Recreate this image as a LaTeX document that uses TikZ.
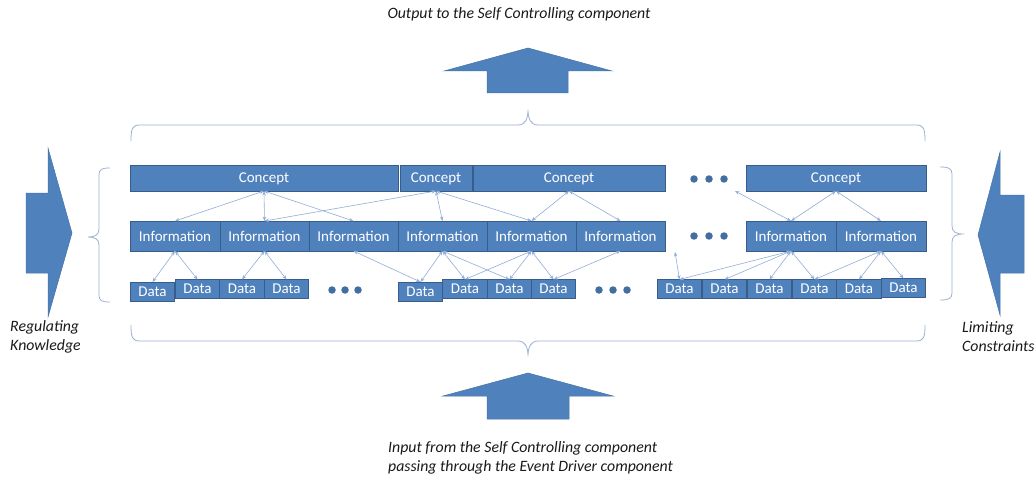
\documentclass[tikz,border=0pt]{standalone}
\usepackage{fontspec}
\setmainfont{Carlito}
\usetikzlibrary{arrows.meta,calc}
\definecolor{boxfill}{HTML}{4F81BD}
\definecolor{boxline}{HTML}{385D8A}
\definecolor{linkc}{HTML}{92AED8}
\definecolor{bracec}{HTML}{9FB1D0}
\definecolor{labelc}{HTML}{1A1A1A}
\begin{document}
\begin{tikzpicture}[x=1pt,y=-1pt,
  box/.style={draw=boxline,line width=1pt,fill=boxfill,text=white,inner sep=0pt,outer sep=0pt,font=\fontsize{15}{17}\selectfont},
  cbox/.style={box,minimum height=25pt},
  ibox/.style={box,minimum height=30pt},
  dbox/.style={box,minimum height=19pt,minimum width=44.5pt},
  link/.style={draw=linkc,line width=0.6pt,{Stealth[length=4.5pt,width=3.5pt]}-{Stealth[length=4.5pt,width=3.5pt]}},
  brc/.style={draw=bracec,line width=0.8pt},
  bigarrow/.style={fill=boxfill,draw=boxfill!90!black,line width=0.5pt},
  dotc/.style={circle,fill=boxfill!85!black,inner sep=0pt,minimum size=7.5pt},
  lbl/.style={text=labelc,font=\fontsize{15.8}{19}\selectfont\itshape,inner sep=0pt,align=left}
]
\useasboundingbox[fill=white] (0,0) rectangle (1035,481);

% Concept row
\node[cbox,minimum width=268pt] (C1) at (264,178.5) {Concept};
\node[cbox,minimum width=72pt] (C2) at (436,178.5) {Concept};
\node[cbox,minimum width=192pt] (C3) at (569,178.5) {Concept};
\node[cbox,minimum width=180pt] (C4) at (836,178.5) {Concept};

% Information row
\node[ibox,minimum width=90pt] (I1) at (175,236) {Information};
\node[ibox,minimum width=89pt] (I2) at (264.5,236) {Information};
\node[ibox,minimum width=89pt] (I3) at (353.5,236) {Information};
\node[ibox,minimum width=89pt] (I4) at (442.5,236) {Information};
\node[ibox,minimum width=89pt] (I5) at (531.5,236) {Information};
\node[ibox,minimum width=89pt] (I6) at (620.5,236) {Information};
\node[ibox,minimum width=90pt] (I7) at (791,236) {Information};
\node[ibox,minimum width=90pt] (I8) at (881,236) {Information};

% Data row
\node[dbox] (D2) at (197.5,289) {Data};
\node[dbox] (D3) at (242,289) {Data};
\node[dbox] (D4) at (286.5,289) {Data};
\node[dbox] (D1) at (152.5,291.5) {Data};
\node[dbox] (D6) at (465,289) {Data};
\node[dbox] (D7) at (509.5,289) {Data};
\node[dbox] (D8) at (553.5,289) {Data};
\node[dbox] (D5) at (420.5,291.5) {Data};
\node[dbox] (D9) at (679.5,289) {Data};
\node[dbox] (D10) at (724.5,289) {Data};
\node[dbox] (D11) at (769.5,289) {Data};
\node[dbox] (D12) at (814.5,289) {Data};
\node[dbox] (D13) at (859,289) {Data};
\node[dbox] (D14) at (903.5,288) {Data};

% ellipsis dots
\foreach \x/\n in {694/a,709/b,724/c}{
  \node[dotc] (cd\n) at (\x,179) {};
  \node[dotc] (id\n) at (\x,236) {};
}
\foreach \x/\n in {332/a,345/b,358/c}{ \node[dotc] (da\n) at (\x,290) {}; }
\foreach \x/\n in {599/a,613/b,627/c}{ \node[dotc] (db\n) at (\x,290) {}; }

% free ends
\coordinate (fc) at (735,191);
\coordinate (fd) at (675,252);

% Concept - Information links
\draw[link] (C1.south) -- (I1.north);
\draw[link] (C1.south) -- (I2.north);
\draw[link] (C1.south) -- (I3.north);
\draw[link] (C2.south) -- (I2.north);
\draw[link] (C2.south) -- (I4.north);
\draw[link] (C2.south) -- (I5.north);
\draw[link] (C3.south) -- (I5.north);
\draw[link] (C3.south) -- (I6.north);
\draw[link] (C4.south) -- (I7.north);
\draw[link] (C4.south) -- (I8.north);
\draw[link] (I7.north) -- (fc);

% Information - Data links
\draw[link] (I1.south) -- (D1.north);
\draw[link] (I1.south) -- (D2.north);
\draw[link] (I2.south) -- (D3.north);
\draw[link] (I2.south) -- (D4.north);
\draw[link] (I3.south) -- (D5.north);
\draw[link] (I4.south) -- (D5.north);
\draw[link] (I4.south) -- (D6.north);
\draw[link] (I4.south) -- (D7.north);
\draw[link] (I5.south) -- (D6.north);
\draw[link] (I5.south) -- (D7.north);
\draw[link] (I5.south) -- (D8.north);
\draw[link] (I6.south) -- (D8.north);
\draw[link] (I7.south) -- (D9.north);
\draw[link] (I7.south) -- (D10.north);
\draw[link] (I7.south) -- (D11.north);
\draw[link] (I7.south) -- (D12.north);
\draw[link] (I8.south) -- (D12.north);
\draw[link] (I8.south) -- (D13.north);
\draw[link] (I8.south) -- (D14.north);
\draw[link] (D9.north) -- (fd);

% Braces
\draw[brc] (131,141) .. controls (131,129) and (132,125) .. (140,125) -- (518,125)
  .. controls (525,125) and (528,119) .. (528,110)
  .. controls (528,119) and (531,125) .. (538,125) -- (916,125)
  .. controls (924,125) and (925,129) .. (925,141);
\draw[brc] (131,325) .. controls (131,337) and (132,341) .. (140,341) -- (518,341)
  .. controls (525,341) and (528,347) .. (528,356)
  .. controls (528,347) and (531,341) .. (538,341) -- (916,341)
  .. controls (924,341) and (925,337) .. (925,325);
\draw[brc] (110,168) .. controls (102,168) and (99,169) .. (99,175) -- (99,229)
  .. controls (99,235) and (95,237) .. (88,237)
  .. controls (95,237) and (99,239) .. (99,245) -- (99,295)
  .. controls (99,301) and (102,302) .. (110,302);
\draw[brc] (940,167) .. controls (948,167) and (952,168) .. (952,174) -- (952,226)
  .. controls (952,232) and (956,234) .. (964,234)
  .. controls (956,234) and (952,236) .. (952,242) -- (952,293)
  .. controls (952,299) and (948,300) .. (940,300);

% Big arrows
\path[bigarrow] (26,193) -- (48,193) -- (48,148) -- (72,233) -- (48,317) -- (48,273) -- (26,273) -- cycle;
\path[bigarrow] (1024,195) -- (1000,195) -- (1000,152) -- (978,235) -- (1000,315) -- (1000,273) -- (1024,273) -- cycle;
\path[bigarrow] (487,93) -- (487,71) -- (444,71) -- (528,48) -- (612,71) -- (568,71) -- (568,93) -- cycle;
\path[bigarrow] (487,419) -- (487,396) -- (443,396) -- (528,373) -- (613,396) -- (569,396) -- (569,419) -- cycle;

% Labels
\node[lbl] (tout) at (519,14) {Output to the Self Controlling component};
\node[lbl,anchor=west] (tin) at (388,458) {Input from the Self Controlling component\\passing through the Event Driver component};
\node[lbl,anchor=west] (treg) at (10,336.5) {Regulating\\Knowledge};
\node[lbl,anchor=west] (tlim) at (962,336.5) {Limiting\\Constraints};
\end{tikzpicture}
\end{document}
